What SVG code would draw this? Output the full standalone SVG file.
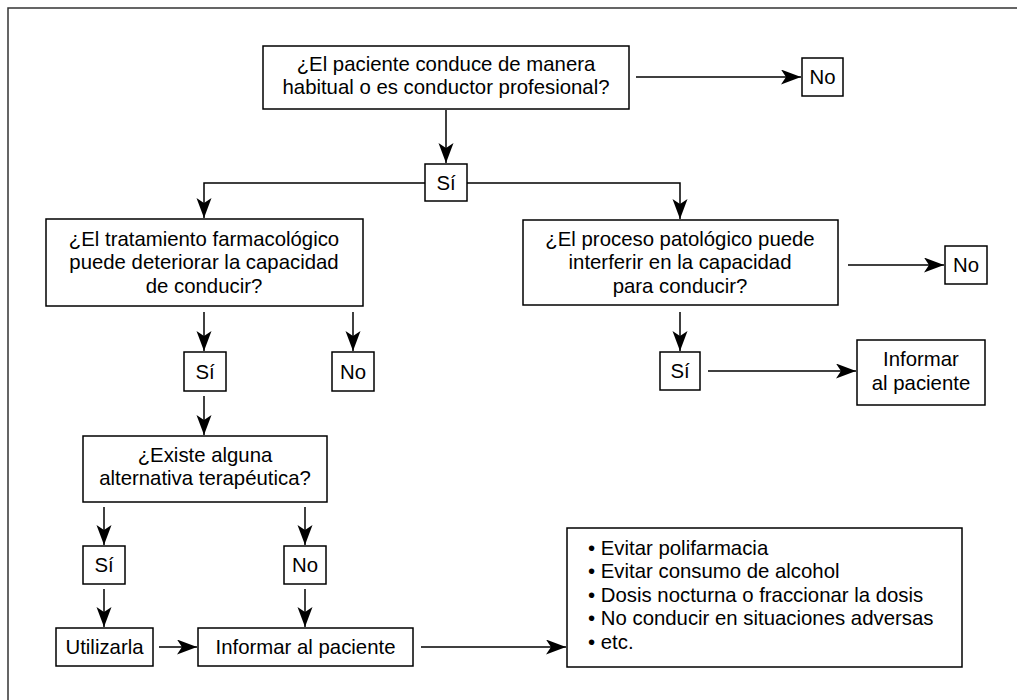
<svg xmlns="http://www.w3.org/2000/svg" width="1017" height="700" viewBox="0 0 1017 700">
<defs>
<marker id="ah" markerUnits="userSpaceOnUse" markerWidth="22" markerHeight="16" refX="20" refY="7.5" orient="auto">
<path d="M0,0 L20,7.5 L0,15 L5,7.5 z" fill="#000"/>
</marker>
<style>
.box{fill:#fff;stroke:#000;stroke-width:1.5}
.ln{fill:none;stroke:#333;stroke-width:1.5}
.ar{fill:none;stroke:#000;stroke-width:1.5;marker-end:url(#ah)}
text{font-family:"Liberation Sans",Arial,sans-serif;font-size:21px;fill:#000}
.c{text-anchor:middle}
</style>
</defs>
<rect width="1017" height="700" fill="#fff"/>
<path class="ln" d="M8,700 L8,8 L1017,8"/>
<g id="connectors">
<path class="ar" d="M636,77 L801,77"/>
<path class="ar" d="M446,110 L446,163"/>
<path class="ar" d="M425,183 L204,183 L204,218"/>
<path class="ar" d="M467,183 L680,183 L680,219"/>
<path class="ar" d="M848,265 L944,265"/>
<path class="ar" d="M204,312 L204,351"/>
<path class="ar" d="M353,312 L353,351"/>
<path class="ar" d="M680,312 L680,351"/>
<path class="ar" d="M708,371 L856,371"/>
<path class="ar" d="M204,396 L204,435"/>
<path class="ar" d="M104,507 L104,545"/>
<path class="ar" d="M305,507 L305,545"/>
<path class="ar" d="M104,589 L104,627"/>
<path class="ar" d="M305,589 L305,627"/>
<path class="ar" d="M159,647 L197,647"/>
<path class="ar" d="M421,647 L566,647"/>
</g>
<g id="q1"><rect class="box" x="263" y="46" width="366" height="63"/>
<text class="c" transform="translate(446 0) scale(0.97 1)" y="71">¿El paciente conduce de manera</text>
<text class="c" transform="translate(446 0) scale(0.97 1)" y="94.5">habitual o es conductor profesional?</text></g>
<g id="no1"><rect class="box" x="802" y="58" width="41" height="38"/><text class="c" transform="translate(822.5 0) scale(0.97 1)" y="84">No</text></g>
<g id="si1"><rect class="box" x="425" y="164" width="42" height="37"/><text class="c" transform="translate(446 0) scale(0.97 1)" y="190">Sí</text></g>
<g id="q2"><rect class="box" x="46" y="219" width="317" height="87"/>
<text class="c" transform="translate(204 0) scale(0.97 1)" y="246">¿El tratamiento farmacológico</text>
<text class="c" transform="translate(204 0) scale(0.97 1)" y="269.5">puede deteriorar la capacidad</text>
<text class="c" transform="translate(204 0) scale(0.97 1)" y="293">de conducir?</text></g>
<g id="q3"><rect class="box" x="523" y="220" width="315" height="85"/>
<text class="c" transform="translate(680 0) scale(0.97 1)" y="246">¿El proceso patológico puede</text>
<text class="c" transform="translate(680 0) scale(0.97 1)" y="269.5">interferir en la capacidad</text>
<text class="c" transform="translate(680 0) scale(0.97 1)" y="293">para conducir?</text></g>
<g id="no3"><rect class="box" x="945" y="246" width="42" height="38"/><text class="c" transform="translate(966 0) scale(0.97 1)" y="272">No</text></g>
<g id="si2"><rect class="box" x="184" y="352" width="42" height="39"/><text class="c" transform="translate(205 0) scale(0.97 1)" y="379">Sí</text></g>
<g id="no2"><rect class="box" x="332" y="352" width="42" height="39"/><text class="c" transform="translate(353 0) scale(0.97 1)" y="379">No</text></g>
<g id="si3"><rect class="box" x="660" y="352" width="40" height="38"/><text class="c" transform="translate(680 0) scale(0.97 1)" y="378">Sí</text></g>
<g id="inf1"><rect class="box" x="857" y="340" width="128" height="65"/>
<text class="c" transform="translate(921 0) scale(0.97 1)" y="366">Informar</text>
<text class="c" transform="translate(921 0) scale(0.97 1)" y="390">al paciente</text></g>
<g id="q4"><rect class="box" x="83" y="436" width="244" height="66"/>
<text class="c" transform="translate(205 0) scale(0.97 1)" y="462">¿Existe alguna</text>
<text class="c" transform="translate(205 0) scale(0.97 1)" y="485.5">alternativa terapéutica?</text></g>
<g id="si4"><rect class="box" x="83" y="546" width="42" height="38"/><text class="c" transform="translate(104 0) scale(0.97 1)" y="572">Sí</text></g>
<g id="no4"><rect class="box" x="284" y="546" width="42" height="38"/><text class="c" transform="translate(305 0) scale(0.97 1)" y="572">No</text></g>
<g id="util"><rect class="box" x="56" y="628" width="97" height="38"/><text class="c" transform="translate(104.5 0) scale(0.97 1)" y="654">Utilizarla</text></g>
<g id="inf2"><rect class="box" x="198" y="628" width="215" height="38"/><text class="c" transform="translate(305.5 0) scale(0.97 1)" y="654">Informar al paciente</text></g>
<g id="list"><rect class="box" x="567" y="528" width="395" height="139"/>
<text transform="translate(588 0) scale(0.97 1)" y="555">• Evitar polifarmacia</text>
<text transform="translate(588 0) scale(0.97 1)" y="578.5">• Evitar consumo de alcohol</text>
<text transform="translate(588 0) scale(0.97 1)" y="602">• Dosis nocturna o fraccionar la dosis</text>
<text transform="translate(588 0) scale(0.97 1)" y="625.5">• No conducir en situaciones adversas</text>
<text transform="translate(588 0) scale(0.97 1)" y="649">• etc.</text></g>
</svg>
